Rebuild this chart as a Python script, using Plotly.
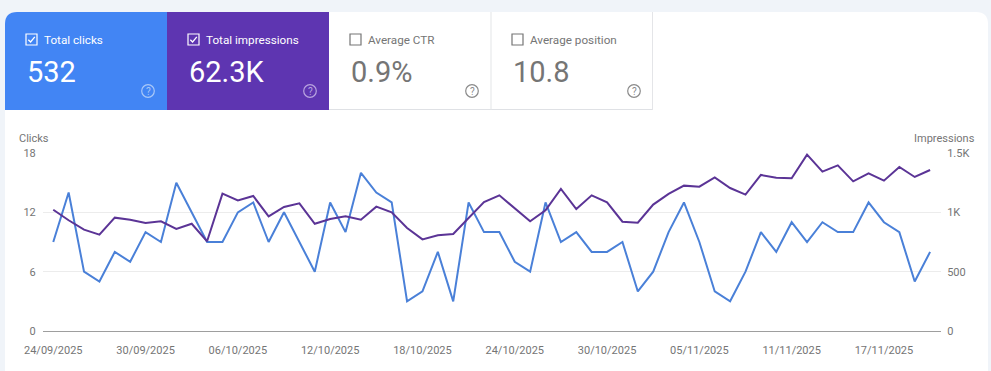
import plotly.graph_objects as go
import pandas as pd

W, H = 991, 371
dates = [d.strftime("%Y-%m-%d") for d in pd.date_range("2025-09-24", "2025-11-20")]
clicks = [9,14,6,5,8,7,10,9,15,12,9,9,12,13,9,12,9,6,13,10,16,14,13,3,4,8,3,13,10,10,7,6,13,9,10,8,8,9,4,6,10,13,9,4,3,6,10,8,11,9,11,10,10,13,11,10,5,8]
impressions = [1022,933,854,812,955,938,910,924,860,904,756,1157,1101,1138,966,1045,1076,904,944,966,938,1048,1000,868,772,806,817,950,1087,1143,1037,924,1017,1197,1028,1143,1084,921,913,1065,1155,1225,1216,1295,1205,1149,1315,1292,1287,1486,1343,1396,1261,1329,1267,1382,1298,1357]
x_tick_vals = ["2025-09-24","2025-09-30","2025-10-06","2025-10-12","2025-10-18","2025-10-24","2025-10-30","2025-11-05","2025-11-11","2025-11-17"]
x_tick_text = ["24/09/2025","30/09/2025","06/10/2025","12/10/2025","18/10/2025","24/10/2025","30/10/2025","05/11/2025","11/11/2025","17/11/2025"]
left_ticks, left_text = [0,6,12,18], ["0","6","12","18"]
right_ticks, right_text = [0,500,1000,1500], ["0","500","1K","1.5K"]
tiles = [("Total clicks","532",5,True,"#4285f4"),("Total impressions","62.3K",167,True,"#5e35b1"),
         ("Average CTR","0.9%",329,False,"#ffffff"),("Average position","10.8",491,False,"#ffffff")]

ML, MR, MT, MB = 43, 50, 153, 40
PW, PH = W-ML-MR, H-MT-MB
fx = lambda p: (p-ML)/PW
fy = lambda p: 1-(p-MT)/PH

fig = go.Figure()
fig.add_trace(go.Scatter(x=dates, y=clicks, mode="lines", line=dict(color="#4a80d8", width=2), name="Clicks"))
fig.add_trace(go.Scatter(x=dates, y=impressions, yaxis="y2", mode="lines", line=dict(color="#5b3496", width=2), name="Impressions"))

def text(px, py, s, size, color, anchor="left"):
    fig.add_annotation(xref="paper", yref="paper", x=fx(px), y=fy(py), text=s, showarrow=False,
                       xanchor=anchor, yanchor="middle", font=dict(family="Roboto", size=size, color=color),
                       borderpad=0, borderwidth=0)

shapes = []
def P(points):
    return " ".join(("M" if i == 0 else "L")+f"{fx(a):.5f},{fy(b):.5f}" for i,(a,b) in enumerate(points))+" "
def rect(x0,y0,x1,y1,fill):
    shapes.append(dict(type="rect",xref="paper",yref="paper",x0=fx(x0),x1=fx(x1),y0=fy(y0),y1=fy(y1),
                       fillcolor=fill,line=dict(color="rgba(0,0,0,0)",width=0),layer="below"))
def rpath(x0,y0,x1,y1,r,fill,right=True):
    d = f"M{fx(x0)},{fy(y1)} L{fx(x0)},{fy(y0+r)} Q{fx(x0)},{fy(y0)} {fx(x0+r)},{fy(y0)} "
    if right:
        d += f"L{fx(x1-r)},{fy(y0)} Q{fx(x1)},{fy(y0)} {fx(x1)},{fy(y0+r)} L{fx(x1)},{fy(y1)} Z"
    else:
        d += f"L{fx(x1)},{fy(y0)} L{fx(x1)},{fy(y1)} Z"
    shapes.append(dict(type="path",xref="paper",yref="paper",path=d,fillcolor=fill,line=dict(width=0),layer="below"))

rpath(5,12,988,H+5,12,"#ffffff")
rect(329,109,653,110,"#dfe1e5")
rect(490.5,12,491.5,110,"#e4e5e8")
rect(652,12,653,110,"#e4e5e8")
for i,(label,val,x0,on,fill) in enumerate(tiles):
    if i == 0:
        rpath(x0,12,x0+162,110,12,fill,right=False)
    elif on:
        rect(x0,12,x0+162,110,fill)
    fg = "#ffffff" if on else "#757575"
    bx, by = x0+21, 34
    shapes.append(dict(type="rect",xref="paper",yref="paper",x0=fx(bx),x1=fx(bx+11),y0=fy(by),y1=fy(by+11),
                       line=dict(color=fg,width=1.2),fillcolor="rgba(0,0,0,0)",layer="above"))
    if on:
        shapes.append(dict(type="path",xref="paper",yref="paper",path=P([(bx+2.3,by+5.8),(bx+4.6,by+8),(bx+8.8,by+2.8)]),
                           line=dict(color=fg,width=1.3),layer="above"))
    text(x0+39, 39.5, label, 11.7, "#ffffff" if on else "#757575")
    text(x0+21.5, 71.5, val, 29, fg)
    cx, cy = x0+143, 91
    icon = {0:"#a9c8f8",1:"#b9a4e0"}.get(i,"#8a8a8a")
    shapes.append(dict(type="circle",xref="paper",yref="paper",x0=fx(cx-6.3),x1=fx(cx+6.3),y0=fy(cy-6.3),y1=fy(cy+6.3),
                       line=dict(color=icon,width=1.2),fillcolor="rgba(0,0,0,0)",layer="above"))
    text(cx, cy, "?", 10, icon, "center")

text(19, 138.5, "Clicks", 11, "#757575")
text(974.5, 138.5, "Impressions", 11, "#757575", "right")

clear = "rgba(0,0,0,0)"
fig.update_layout(
    width=W, height=H, margin=dict(l=ML,r=MR,t=MT,b=MB,autoexpand=False),
    paper_bgcolor="#f0f4f9", plot_bgcolor=clear, showlegend=False, shapes=shapes,
    font=dict(family="Roboto", size=11, color="#757575"),
    xaxis=dict(type="date", range=["2025-09-23 08:00","2025-11-20 17:00"], tickvals=x_tick_vals, ticktext=x_tick_text,
               showgrid=False, zeroline=False, showline=True, linecolor="#9e9e9e", linewidth=1,
               ticks="outside", ticklen=9, tickcolor=clear),
    yaxis=dict(range=[0,18], tickvals=left_ticks, ticktext=left_text, gridcolor="#ececec", gridwidth=1, zeroline=False,
               ticks="outside", ticklen=4, tickcolor=clear),
    yaxis2=dict(range=[0,1500], tickvals=right_ticks, ticktext=right_text, overlaying="y", side="right", showgrid=False, zeroline=False,
                ticks="outside", ticklen=3, tickcolor=clear),
)
fig.write_html("out.html", config=dict(displayModeBar=False),
               post_script="document.body.style.margin='0';document.body.style.overflow='hidden';")
